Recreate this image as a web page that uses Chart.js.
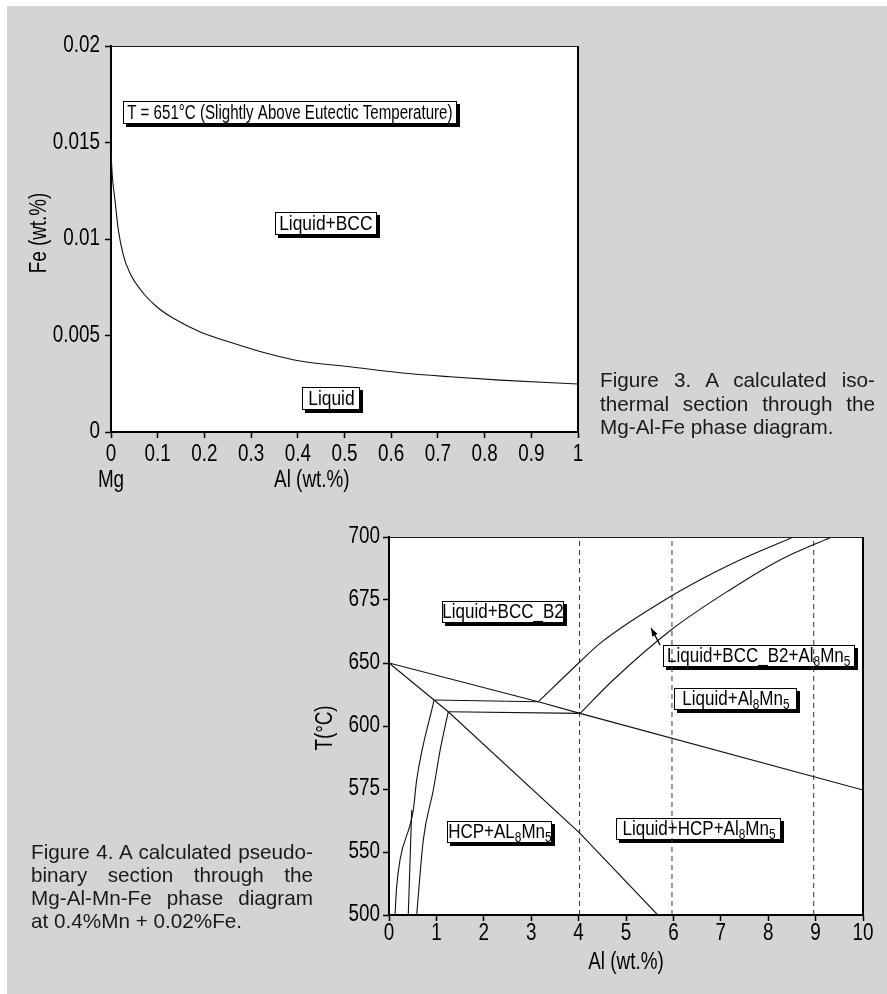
<!DOCTYPE html>
<html>
<head>
<meta charset="utf-8">
<title>Mg-Al-Fe / Mg-Al-Mn-Fe phase diagrams</title>
<script src="https://cdn.jsdelivr.net/npm/chart.js@4.4.1/dist/chart.umd.min.js"></script>
<style>
  html, body { margin: 0; padding: 0; background: #fff; }
  body { width: 887px; height: 994px; position: relative; overflow: hidden; font-family: "Liberation Sans", Arial, sans-serif; }
  #panel { position: absolute; left: 7px; top: 6px; right: 0; bottom: 0; background: #d3d4d6; }
  canvas { position: absolute; }
  #fig3 { left: 7px; top: 6px; }
  #fig4 { left: 300px; top: 500px; }
  .cap { position: absolute; font-size: 20.7px; line-height: 23.5px; color: #1a1a1a; }
  .cap div { text-align: justify; text-align-last: justify; }
  .cap div.last { text-align-last: left; }
  #cap3 { left: 600px; top: 368px; width: 275px; }
  #cap4 { left: 31px; top: 840px; width: 282px; line-height: 23px; }
</style>
</head>
<body>
<div id="panel"></div>
<canvas id="fig3" width="600" height="490"></canvas>
<canvas id="fig4" width="587" height="494"></canvas>
<div class="cap" id="cap3">
  <div>Figure 3. A calculated iso-</div>
  <div>thermal section through the</div>
  <div class="last">Mg-Al-Fe phase diagram.</div>
</div>
<div class="cap" id="cap4">
  <div>Figure 4. A calculated pseudo-</div>
  <div>binary section through the</div>
  <div>Mg-Al-Mn-Fe phase diagram</div>
  <div class="last">at 0.4%Mn + 0.02%Fe.</div>
</div>
<script>
// ---- Figure 3 data (isothermal section, 651 °C) ----
const fig3AlTicks = [0, 0.1, 0.2, 0.3, 0.4, 0.5, 0.6, 0.7, 0.8, 0.9, 1];
const fig3AlTickLabels = ['0', '0.1', '0.2', '0.3', '0.4', '0.5', '0.6', '0.7', '0.8', '0.9', '1'];
const fig3FeTicks = [0, 0.005, 0.01, 0.015, 0.02];
const fig3FeTickLabels = ['0', '0.005', '0.01', '0.015', '0.02'];
// Liquid / Liquid+BCC boundary
const boundaryAl = [0, 0.003, 0.0086, 0.0157, 0.0264, 0.0407, 0.0692, 0.0978, 0.1335, 0.19, 0.262, 0.333, 0.405, 0.512, 0.619, 0.726, 0.833, 1.0];
const boundaryFe = [0.0145, 0.0132, 0.012, 0.01047, 0.00917, 0.00822, 0.00719, 0.00649, 0.00589, 0.0052, 0.0046, 0.00408, 0.00368, 0.00338, 0.00307, 0.00286, 0.00269, 0.00249];

// ---- Figure 4 data (pseudo-binary section, 0.4%Mn + 0.02%Fe) ----
const fig4AlTicks = [0, 1, 2, 3, 4, 5, 6, 7, 8, 9, 10];
const fig4AlTickLabels = ['0', '1', '2', '3', '4', '5', '6', '7', '8', '9', '10'];
// temperature labels as printed on the axis; they sit at equal spacing
const fig4TempTicks = [500, 550, 575, 600, 650, 675, 700];
const hcpLiquidusAl = [0, 3.15, 4.03, 10];
const hcpLiquidusT = [650, 619.3, 610, 574.6];
const solidusAl = [0, 0.95, 1.25, 4.03, 5.67];
const solidusT = [650, 620.6, 611.3, 557.4, 500];
const upperPlateauAl = [0.95, 3.15];
const upperPlateauT = [620.6, 619.3];
const lowerPlateauAl = [1.25, 4.03];
const lowerPlateauT = [611.3, 610];
const bccB2Al = [3.15, 4.03, 4.45, 5.93, 7.19, 8.53];
const bccB2T = [619.3, 650.5, 657.8, 676.3, 689, 700];
const al8mn5Al = [4.03, 4.73, 5.95, 7.19, 8.25, 9.34];
const al8mn5T = [610, 636.5, 663.1, 679, 690.9, 700];
const leftCurveAl = [0.127, 0.162, 0.232, 0.513, 0.584, 0.95];
const leftCurveT = [500, 522.5, 543.7, 566.7, 578.6, 620.6];
const leftStemAl = [0.407, 0.479];
const leftStemT = [500, 566.7];
const innerCurveAl = [0.584, 0.724, 0.935, 1.08, 1.25];
const innerCurveT = [500, 554.8, 574.6, 590.5, 611.3];
const alloyAl = [4.02, 5.97, 8.96];

const plain = '"Liberation Sans", Arial, sans-serif';
const SQUEEZE = 0.82; // condensed look of the axis lettering

// position of a printed temperature on the evenly spaced tick axis
function tAxis(t) {
  for (let i = 1; i < fig4TempTicks.length; i++) {
    if (t <= fig4TempTicks[i]) {
      return i - 1 + (t - fig4TempTicks[i - 1]) / (fig4TempTicks[i] - fig4TempTicks[i - 1]);
    }
  }
  return fig4TempTicks.length - 1;
}

function narrowText(ctx, text, x, y, align, rotate) {
  ctx.save();
  ctx.translate(x, y);
  if (rotate) ctx.rotate(-Math.PI / 2);
  ctx.scale(SQUEEZE, 1);
  ctx.font = '23px ' + plain;
  ctx.fillStyle = '#000';
  ctx.textAlign = align;
  ctx.textBaseline = 'middle';
  ctx.fillText(text, 0, 0);
  ctx.restore();
}

// boxed label with a drop shadow; {n} marks a subscript
function drawNote(ctx, cx, cy, w, h, text, squeeze) {
  const parts = text.split(/(\{\d+\})/).filter(Boolean)
    .map(s => s[0] === '{' ? [s.slice(1, -1), true] : [s, false]);
  const x0 = Math.round(cx - w / 2), y0 = Math.round(cy - h / 2);
  ctx.save();
  ctx.fillStyle = '#000';
  ctx.fillRect(x0 + 3, y0 + 3, w, h);
  ctx.fillStyle = '#fff';
  ctx.fillRect(x0, y0, w, h);
  ctx.strokeStyle = '#000';
  ctx.lineWidth = 1;
  ctx.strokeRect(x0 + 0.5, y0 + 0.5, w - 1, h - 1);
  let total = 0;
  parts.forEach(([s, sub]) => {
    ctx.font = (sub ? 14 : 20) + 'px ' + plain;
    total += ctx.measureText(s).width;
  });
  ctx.translate(cx - total * squeeze / 2, y0 + h / 2 + 6);
  ctx.scale(squeeze, 1);
  ctx.fillStyle = '#000';
  ctx.textBaseline = 'alphabetic';
  let x = 0;
  parts.forEach(([s, sub]) => {
    ctx.font = (sub ? 14 : 20) + 'px ' + plain;
    ctx.fillText(s, x, sub ? 4 : 0);
    x += ctx.measureText(s).width;
  });
  ctx.restore();
}

const framePlugin = {
  id: 'frame',
  beforeDraw(chart) {
    const a = chart.chartArea, ctx = chart.ctx;
    ctx.save();
    ctx.fillStyle = '#fff';
    ctx.fillRect(a.left, a.top, a.right - a.left, a.bottom - a.top);
    ctx.restore();
  },
  afterDraw(chart) {
    const a = chart.chartArea, ctx = chart.ctx;
    ctx.save();
    ctx.strokeStyle = '#222';
    ctx.lineWidth = 1.2;
    ctx.beginPath();
    ctx.moveTo(a.left, a.top + 0.5);
    ctx.lineTo(a.right, a.top + 0.5);
    ctx.stroke();
    ctx.strokeStyle = '#000';
    ctx.lineWidth = 2;
    ctx.beginPath();
    ctx.moveTo(a.right, a.top);
    ctx.lineTo(a.right, a.bottom);
    ctx.stroke();
    ctx.restore();
  }
};

// tick labels and axis titles in a condensed face, placed from the scales
function axisTextPlugin(spec) {
  return {
    id: 'axisText',
    afterDraw(chart) {
      const ctx = chart.ctx, a = chart.chartArea, xs = chart.scales.x, ys = chart.scales.y;
      spec.xTicks.forEach((v, i) => narrowText(ctx, spec.xLabels[i], xs.getPixelForValue(v), a.bottom + spec.xTickDy, 'center'));
      spec.yTicks.forEach((v, i) => narrowText(ctx, spec.yLabels[i], a.left - spec.yTickDx, ys.getPixelForValue(v), 'right'));
      narrowText(ctx, spec.yTitle, spec.yTitleX, (a.top + a.bottom) / 2 + spec.yTitleDy, 'center', true);
      spec.xTitles.forEach(t => narrowText(ctx, t.text, xs.getPixelForValue(t.at), a.bottom + t.dy, 'center'));
    }
  };
}

function axisCommon(ticks) {
  return {
    type: 'linear',
    afterBuildTicks: s => { s.ticks = ticks.map(v => ({ value: v })); },
    ticks: { display: false, autoSkip: false },
    grid: { display: true, drawOnChartArea: false, drawTicks: true, tickLength: 6, tickColor: '#000', tickWidth: 1.5 },
    border: { display: true, color: '#000', width: 2 }
  };
}

// ---- Figure 3 ----
const fig3Notes = [
  { text: 'T = 651°C (Slightly Above Eutectic Temperature)', x: 0.383, y: 0.01658, w: 334, squeeze: 0.755 },
  { text: 'Liquid+BCC', x: 0.46, y: 0.0108, w: 102, squeeze: 0.87 },
  { text: 'Liquid', x: 0.472, y: 0.00176, w: 58, squeeze: 0.87 }
];

new Chart(document.getElementById('fig3'), {
  type: 'scatter',
  data: {
    datasets: [{
      data: boundaryAl.map((x, i) => ({ x, y: boundaryFe[i] })),
      showLine: true, borderColor: '#111', borderWidth: 1.1, pointRadius: 0,
      cubicInterpolationMode: 'monotone'
    }]
  },
  options: {
    responsive: false, animation: false,
    layout: { padding: { top: 40, right: 29, left: 0, bottom: 0 } },
    plugins: { legend: { display: false }, tooltip: { enabled: false } },
    scales: {
      x: Object.assign(axisCommon(fig3AlTicks), { min: 0, max: 1, afterFit: s => { s.height = 64; } }),
      y: Object.assign(axisCommon(fig3FeTicks), { min: 0, max: 0.02, afterFit: s => { s.width = 104; } })
    }
  },
  plugins: [framePlugin, axisTextPlugin({
    xTicks: fig3AlTicks, xLabels: fig3AlTickLabels, xTickDy: 23,
    yTicks: fig3FeTicks, yLabels: fig3FeTickLabels, yTickDx: 11,
    yTitle: 'Fe (wt.%)', yTitleX: 33, yTitleDy: -6,
    xTitles: [{ text: 'Mg', at: 0, dy: 49 }, { text: 'Al (wt.%)', at: 0.43, dy: 49 }]
  }), {
    id: 'fig3Notes',
    beforeDatasetsDraw(chart) {
      const { x, y } = chart.scales;
      fig3Notes.forEach(n => drawNote(chart.ctx, x.getPixelForValue(n.x), y.getPixelForValue(n.y), n.w, 23, n.text, n.squeeze));
    }
  }]
});

// ---- Figure 4 ----
const fig4Notes = [
  { text: 'Liquid+BCC_B2', x: 2.405, t: 670.4, w: 122 },
  { text: 'Liquid+BCC_B2+Al{8}Mn{5}', x: 7.8, t: 652.8, w: 192 },
  { text: 'Liquid+Al{8}Mn{5}', x: 7.32, t: 621.8, w: 123 },
  { text: 'HCP+AL{8}Mn{5}', x: 2.34, t: 557.9, w: 105 },
  { text: 'Liquid+HCP+Al{8}Mn{5}', x: 6.54, t: 559.1, w: 165 }
];
const fig4Arrow = { from: [5.72, 657.1], to: [5.53, 663.8] };

function phaseLine(al, t, curved) {
  const ds = {
    data: al.map((x, i) => ({ x, y: tAxis(t[i]) })),
    showLine: true, borderColor: '#111', borderWidth: 1.1, pointRadius: 0
  };
  if (curved) ds.cubicInterpolationMode = 'monotone';
  return ds;
}

const fig4Sets = [
  phaseLine(hcpLiquidusAl, hcpLiquidusT),
  phaseLine(solidusAl, solidusT),
  phaseLine(upperPlateauAl, upperPlateauT),
  phaseLine(lowerPlateauAl, lowerPlateauT),
  phaseLine(bccB2Al, bccB2T, true),
  phaseLine(al8mn5Al, al8mn5T, true),
  phaseLine(leftCurveAl, leftCurveT, true),
  phaseLine(leftStemAl, leftStemT),
  phaseLine(innerCurveAl, innerCurveT, true)
];
alloyAl.forEach(a => fig4Sets.push({
  data: [{ x: a, y: tAxis(500) }, { x: a, y: tAxis(700) }],
  showLine: true, borderColor: '#333', borderWidth: 1, borderDash: [5, 4], pointRadius: 0
}));

const fig4TempPos = fig4TempTicks.map((v, i) => i);

new Chart(document.getElementById('fig4'), {
  type: 'scatter',
  data: { datasets: fig4Sets },
  options: {
    responsive: false, animation: false,
    layout: { padding: { top: 37, right: 24, left: 0, bottom: 0 } },
    plugins: { legend: { display: false }, tooltip: { enabled: false } },
    scales: {
      x: Object.assign(axisCommon(fig4AlTicks), { min: 0, max: 10, afterFit: s => { s.height = 79; } }),
      y: Object.assign(axisCommon(fig4TempPos), { min: 0, max: fig4TempTicks.length - 1, afterFit: s => { s.width = 89; } })
    }
  },
  plugins: [framePlugin, axisTextPlugin({
    xTicks: fig4AlTicks, xLabels: fig4AlTickLabels, xTickDy: 19,
    yTicks: fig4TempPos, yLabels: fig4TempTicks.map(String), yTickDx: 9,
    yTitle: 'T(°C)', yTitleX: 26, yTitleDy: 2,
    xTitles: [{ text: 'Al (wt.%)', at: 5, dy: 48 }]
  }), {
    id: 'fig4Notes',
    beforeDatasetsDraw(chart) {
      const { x, y } = chart.scales;
      fig4Notes.forEach(n => drawNote(chart.ctx, x.getPixelForValue(n.x), y.getPixelForValue(tAxis(n.t)), n.w, 22, n.text, 0.85));
    },
    afterDatasetsDraw(chart) {
      const { x, y } = chart.scales, ctx = chart.ctx;
      const x1 = x.getPixelForValue(fig4Arrow.from[0]), y1 = y.getPixelForValue(tAxis(fig4Arrow.from[1]));
      const x2 = x.getPixelForValue(fig4Arrow.to[0]), y2 = y.getPixelForValue(tAxis(fig4Arrow.to[1]));
      const ang = Math.atan2(y2 - y1, x2 - x1);
      ctx.save();
      ctx.strokeStyle = '#000';
      ctx.fillStyle = '#000';
      ctx.lineWidth = 1.2;
      ctx.beginPath();
      ctx.moveTo(x1, y1);
      ctx.lineTo(x2, y2);
      ctx.stroke();
      ctx.beginPath();
      ctx.moveTo(x2, y2);
      ctx.lineTo(x2 - 8 * Math.cos(ang) + 3 * Math.sin(ang), y2 - 8 * Math.sin(ang) - 3 * Math.cos(ang));
      ctx.lineTo(x2 - 8 * Math.cos(ang) - 3 * Math.sin(ang), y2 - 8 * Math.sin(ang) + 3 * Math.cos(ang));
      ctx.closePath();
      ctx.fill();
      ctx.restore();
    }
  }]
});
</script>
</body>
</html>
